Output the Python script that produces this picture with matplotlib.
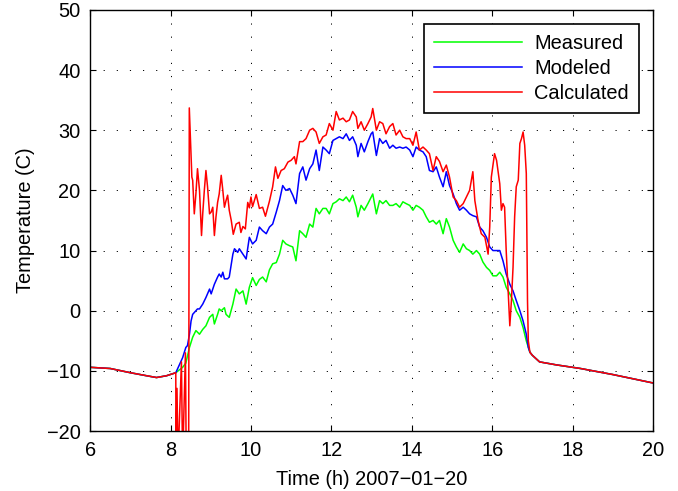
import numpy as np
import matplotlib
matplotlib.use('Agg')
import matplotlib.pyplot as plt

plt.rcParams['font.family'] = ['Liberation Sans', 'DejaVu Sans']

#night before sunrise (all three series agree)
t_night = [6.0, 6.5, 7.0, 7.4, 7.65, 7.9, 8.13]
T_night = [-9.4, -9.6, -10.3, -10.8, -11.1, -10.8, -10.3]

#evening after sunset
t_eve = [16.94, 17.0, 17.18, 17.6, 18.2, 19.0, 20.0]
T_eve = [-6.9, -7.4, -8.5, -9.0, -9.6, -10.6, -12.0]

#measured (daytime)
t_meas = [8.30, 8.38, 8.47, 8.55, 8.63, 8.72, 8.80, 8.88, 8.97, 9.05, 9.09,
          9.17, 9.21, 9.26, 9.34, 9.38, 9.46, 9.55, 9.63, 9.71, 9.80, 9.88,
          9.96, 10.04, 10.13, 10.21, 10.29, 10.38, 10.46, 10.54, 10.63, 10.71,
          10.79, 10.87, 10.96, 11.04, 11.12, 11.21, 11.29, 11.37, 11.46, 11.54,
          11.62, 11.70, 11.79, 11.87, 11.95, 12.04, 12.12, 12.20, 12.29, 12.37,
          12.45, 12.53, 12.62, 12.66, 12.74, 12.82, 12.91, 13.03, 13.12, 13.20,
          13.28, 13.36, 13.45, 13.53, 13.61, 13.70, 13.78, 13.86, 13.95, 14.03,
          14.11, 14.19, 14.28, 14.36, 14.44, 14.53, 14.61, 14.69, 14.78, 14.86,
          14.94, 15.03, 15.11, 15.19, 15.28, 15.36, 15.44, 15.52, 15.61, 15.69,
          15.77, 15.86, 15.94, 16.02, 16.11, 16.19, 16.27, 16.35, 16.44, 16.52,
          16.60, 16.69, 16.77, 16.85]
T_meas = [-9.4, -8.7, -6.1, -4.4, -3.3, -3.9, -3.1, -2.5, -1.1, -0.6, -2.2,
          -0.6, 0.3, 0.0, 0.5, -0.6, -1.1, 1.1, 3.6, 2.8, 3.3, 1.1,
          3.9, 5.5, 4.2, 5.2, 5.6, 4.8, 6.8, 7.8, 8.0, 9.4,
          11.7, 11.1, 10.8, 10.6, 8.3, 13.3, 12.8, 12.2, 14.4, 13.9,
          17.0, 16.1, 17.0, 17.0, 16.1, 17.8, 18.1, 18.6, 18.3, 18.9,
          18.1, 19.2, 17.2, 15.6, 17.5, 16.7, 17.8, 19.4, 16.1, 18.3,
          17.8, 18.3, 17.5, 17.5, 17.8, 17.2, 18.1, 17.8, 17.5, 16.7,
          17.5, 17.2, 16.7, 15.6, 14.7, 15.0, 14.4, 15.0, 12.8, 15.3,
          13.9, 11.7, 10.6, 9.7, 11.1, 10.3, 10.0, 9.4, 10.0, 9.4,
          8.1, 7.2, 6.7, 5.8, 5.8, 6.4, 5.6, 3.9, 2.8, 1.7,
          0.0, -1.1, -2.8, -5.0]

#modeled (daytime)
t_mod = [8.30, 8.38, 8.42, 8.47, 8.51, 8.55, 8.63, 8.67, 8.72, 8.80, 8.88,
         8.97, 9.01, 9.09, 9.17, 9.21, 9.26, 9.30, 9.34, 9.42, 9.46, 9.55,
         9.59, 9.67, 9.71, 9.80, 9.88, 9.96, 10.04, 10.13, 10.21, 10.29, 10.38,
         10.46, 10.54, 10.63, 10.71, 10.79, 10.87, 10.96, 11.04, 11.12, 11.21,
         11.29, 11.37, 11.46, 11.54, 11.62, 11.70, 11.79, 11.87, 11.95, 12.04,
         12.12, 12.20, 12.29, 12.37, 12.45, 12.53, 12.62, 12.66, 12.74, 12.82,
         12.91, 12.99, 13.03, 13.12, 13.20, 13.28, 13.36, 13.45, 13.53, 13.61,
         13.70, 13.78, 13.86, 13.95, 14.03, 14.11, 14.19, 14.28, 14.36, 14.44,
         14.53, 14.61, 14.69, 14.78, 14.86, 14.94, 15.03, 15.11, 15.19, 15.28,
         15.36, 15.44, 15.52, 15.61, 15.69, 15.77, 15.86, 15.94, 16.02, 16.11,
         16.19, 16.27, 16.35, 16.44, 16.52, 16.60, 16.69, 16.77, 16.85, 16.90]
T_mod = [-7.8, -6.1, -5.8, -3.9, -1.7, -0.6, 0.0, 0.3, 0.3, 1.1, 2.2,
         3.6, 2.8, 4.4, 5.6, 6.1, 5.6, 6.4, 5.3, 5.3, 5.6, 9.4,
         10.3, 9.7, 10.3, 9.4, 8.6, 12.2, 11.1, 11.7, 13.9, 13.3, 12.8,
         13.9, 14.4, 16.4, 18.3, 20.8, 20.0, 20.3, 19.2, 17.8, 22.8,
         23.9, 21.7, 23.6, 24.4, 26.7, 23.3, 27.2, 26.7, 26.1, 28.3,
         28.6, 28.9, 28.6, 29.4, 28.3, 28.9, 27.5, 25.6, 27.8, 26.4,
         28.1, 29.4, 29.7, 25.8, 28.6, 27.8, 28.3, 27.0, 27.5, 27.0,
         27.2, 27.0, 27.2, 26.7, 25.6, 27.2, 26.7, 26.4, 25.6, 23.3,
         23.1, 23.9, 22.2, 20.6, 23.1, 20.8, 19.4, 17.8, 16.7, 17.2,
         16.7, 16.1, 15.8, 15.6, 13.9, 13.3, 12.2, 10.6, 10.0, 10.0,
         10.0, 8.3, 6.1, 4.4, 3.3, 1.7, 0.0, -1.7, -3.9, -6.1]

#calculated (daytime, with dropouts near sunrise and sunset)
t_calc = [8.135, 8.16, 8.185, 8.27, 8.30, 8.37, 8.39, 8.45, 8.466, 8.48, 8.53,
          8.55, 8.59, 8.63, 8.67, 8.72, 8.77, 8.80, 8.84, 8.88, 8.92, 8.97,
          9.01, 9.05, 9.09, 9.13, 9.17, 9.21, 9.26, 9.30, 9.34, 9.38, 9.42,
          9.46, 9.51, 9.56, 9.63, 9.71, 9.75, 9.80, 9.86, 9.92, 9.96, 10.00,
          10.04, 10.13, 10.21, 10.29, 10.36, 10.46, 10.54, 10.61, 10.67, 10.75,
          10.83, 10.92, 11.00, 11.08, 11.12, 11.21, 11.29, 11.37, 11.46, 11.54,
          11.62, 11.70, 11.79, 11.87, 11.95, 12.04, 12.12, 12.20, 12.29, 12.37,
          12.45, 12.53, 12.62, 12.66, 12.74, 12.82, 12.91, 12.99, 13.03, 13.12,
          13.20, 13.28, 13.36, 13.45, 13.53, 13.61, 13.70, 13.78, 13.86, 13.95,
          14.03, 14.11, 14.19, 14.28, 14.36, 14.44, 14.53, 14.61, 14.69, 14.78,
          14.86, 14.94, 15.03, 15.11, 15.19, 15.28, 15.36, 15.44, 15.52, 15.57,
          15.65, 15.73, 15.82, 15.90, 15.94, 15.98, 16.06, 16.11, 16.19, 16.23,
          16.27, 16.31, 16.35, 16.44, 16.48, 16.52, 16.56, 16.60, 16.65, 16.69,
          16.73, 16.77, 16.81, 16.85, 16.88, 16.90]
T_calc = [-25, -12.9, -25, -8.5, -25, -7.0, -25, -25, 33.7, 31.1, 22.2,
          21.7, 16.1, 19.4, 23.6, 20.0, 12.5, 16.1, 20.0, 23.3, 20.6, 16.1,
          16.4, 17.2, 12.5, 15.6, 18.0, 19.4, 22.5, 20.0, 17.2, 18.3, 19.2,
          16.7, 15.0, 12.7, 14.4, 14.7, 13.0, 14.0, 13.6, 18.0, 17.1, 18.9,
          17.3, 19.3, 17.0, 17.2, 15.7, 18.2, 20.6, 23.9, 22.0, 23.3,
          23.6, 24.7, 25.0, 25.6, 24.4, 28.1, 28.1, 28.6, 30.0, 30.3,
          29.7, 27.8, 28.9, 29.2, 31.1, 30.0, 33.1, 31.7, 32.0, 31.4,
          31.7, 33.1, 32.2, 30.3, 31.4, 30.0, 31.1, 32.2, 33.6, 30.0,
          31.4, 31.1, 29.4, 30.6, 31.1, 29.2, 30.0, 28.9, 28.6, 28.6,
          27.5, 29.7, 26.7, 27.2, 26.7, 26.1, 23.3, 25.6, 24.8, 23.1,
          24.2, 22.2, 18.9, 18.3, 17.2, 17.8, 18.9, 20.0, 23.1, 18.3,
          15.0, 12.8, 12.2, 9.4, 13.9, 22.2, 26.1, 25.0, 21.1, 16.7,
          17.8, 17.2, 10.0, -2.5, 1.7, 7.2, 15.6, 20.6, 21.7, 27.8,
          28.6, 29.7, 27.5, 22.8, 1.7, -5.0]

def full(t_day, T_day):
    t = np.concatenate([t_night, t_day, t_eve])
    T = np.concatenate([T_night, T_day, T_eve])
    return t, T

fs = 14.4

fig = plt.figure(figsize=(6.78, 4.91), dpi=100)
ax = fig.add_axes([0.133, 0.122, 0.830, 0.858])

t, T = full(t_meas, T_meas)
ax.plot(t, T, color='#00ff00', lw=1.1, label='Measured')
t, T = full(t_mod, T_mod)
ax.plot(t, T, color='#0000ff', lw=1.1, label='Modeled')
t, T = full(t_calc, T_calc)
ax.plot(t, T, color='#ff0000', lw=1.1, label='Calculated')

ax.set_xlim(6, 20)
ax.set_ylim(-20, 50)
ax.set_xticks(np.arange(6, 21, 2))
ax.set_yticks(np.arange(-20, 51, 10))
ax.set_yticklabels([str(v).replace('-', '\u2212') for v in range(-20, 51, 10)])
ax.tick_params(direction='in', top=True, right=True, length=4, width=0.8,
               labelsize=fs)
ax.tick_params(axis='x', pad=7)
ax.tick_params(axis='y', pad=7)
for s in ax.spines.values():
    s.set_linewidth(1.0)
ax.grid(True, color='black', linestyle=(0, (1.2, 12.3)), linewidth=0.7)

ax.set_xlabel('Time (h) 2007\u221201\u221220', fontsize=fs, labelpad=7)
ax.set_ylabel('Temperature (C)', fontsize=fs, labelpad=8)

leg = ax.legend(loc='upper right', fontsize=fs, fancybox=False, framealpha=1,
                edgecolor='black', borderaxespad=0.7, handlelength=4.4,
                handletextpad=0.6, labelspacing=0.3, borderpad=0.5)
leg.get_frame().set_linewidth(1.2)

fig.savefig('out.png', dpi=100)
